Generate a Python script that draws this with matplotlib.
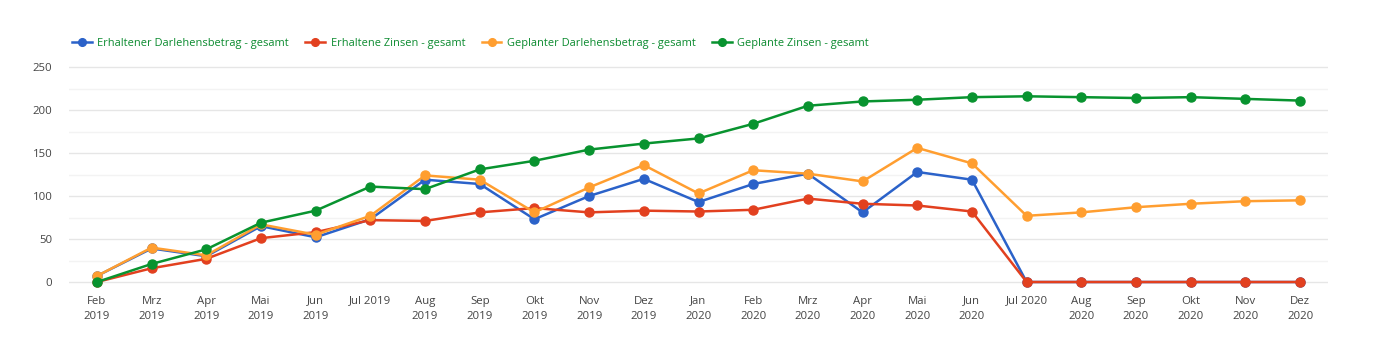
import matplotlib.pyplot as plt
from matplotlib.ticker import MultipleLocator

plt.rcParams['font.family'] = ['Open Sans', 'DejaVu Sans']

# Monate
labels = ['Feb\n2019', 'Mrz\n2019', 'Apr\n2019', 'Mai\n2019', 'Jun\n2019', 'Jul 2019',
          'Aug\n2019', 'Sep\n2019', 'Okt\n2019', 'Nov\n2019', 'Dez\n2019', 'Jan\n2020',
          'Feb\n2020', 'Mrz\n2020', 'Apr\n2020', 'Mai\n2020', 'Jun\n2020', 'Jul 2020',
          'Aug\n2020', 'Sep\n2020', 'Okt\n2020', 'Nov\n2020', 'Dez\n2020']

erhaltener_darlehen = [7, 39, 30, 65, 52, 73, 119, 114, 73, 100, 120, 93,
                       114, 126, 81, 128, 119, 0, 0, 0, 0, 0, 0]
erhaltene_zinsen = [0, 16, 27, 51, 58, 72, 71, 81, 86, 81, 83, 82,
                    84, 97, 91, 89, 82, 0, 0, 0, 0, 0, 0]
geplanter_darlehen = [7, 40, 31, 67, 55, 77, 124, 119, 81, 110, 136, 103,
                      130, 126, 117, 156, 138, 77, 81, 87, 91, 94, 95]
geplante_zinsen = [0, 21, 38, 69, 83, 111, 108, 131, 141, 154, 161, 167,
                   184, 205, 210, 212, 215, 216, 215, 214, 215, 213, 211]

series = [
    ('Erhaltener Darlehensbetrag - gesamt', erhaltener_darlehen, '#2b62c9'),
    ('Erhaltene Zinsen - gesamt', erhaltene_zinsen, '#e2401f'),
    ('Geplanter Darlehensbetrag - gesamt', geplanter_darlehen, '#ff9e30'),
    ('Geplante Zinsen - gesamt', geplante_zinsen, '#08932f'),
]

fig = plt.figure(figsize=(13.78, 3.43), dpi=100)
ax = fig.add_axes([0.0501, 0.1545, 0.9136, 0.6645])

x = list(range(len(labels)))
for name, vals, col in series:
    ax.plot(x, vals, color=col, lw=1.8, marker='o', ms=6.5, label=name, zorder=3)

ax.set_xlim(-0.51, 22.51)
ax.set_ylim(-9.3, 255.8)
ax.yaxis.set_major_locator(MultipleLocator(50))
ax.yaxis.set_minor_locator(MultipleLocator(25))
ax.grid(True, which='major', axis='y', color='#e6e6e6', lw=1)
ax.grid(True, which='minor', axis='y', color='#f3f3f3', lw=1)
ax.set_axisbelow(True)
for s in ax.spines.values():
    s.set_visible(False)

ax.set_xticks(x)
ax.set_xticklabels(labels, fontsize=8.2, color='#444444', linespacing=1.6, va='top')
ax.tick_params(axis='x', length=0, pad=4)
ax.tick_params(axis='y', which='both', length=0, labelsize=8.2, labelcolor='#444444', pad=12)

fig.legend(loc='upper left', bbox_to_anchor=(0.045, 0.918), ncol=4, frameon=False,
           fontsize=7.9, labelcolor='#0a8a2e', handlelength=1.8, handletextpad=0.5,
           columnspacing=1.5, markerscale=0.85)

fig.savefig('out.png', dpi=100)
